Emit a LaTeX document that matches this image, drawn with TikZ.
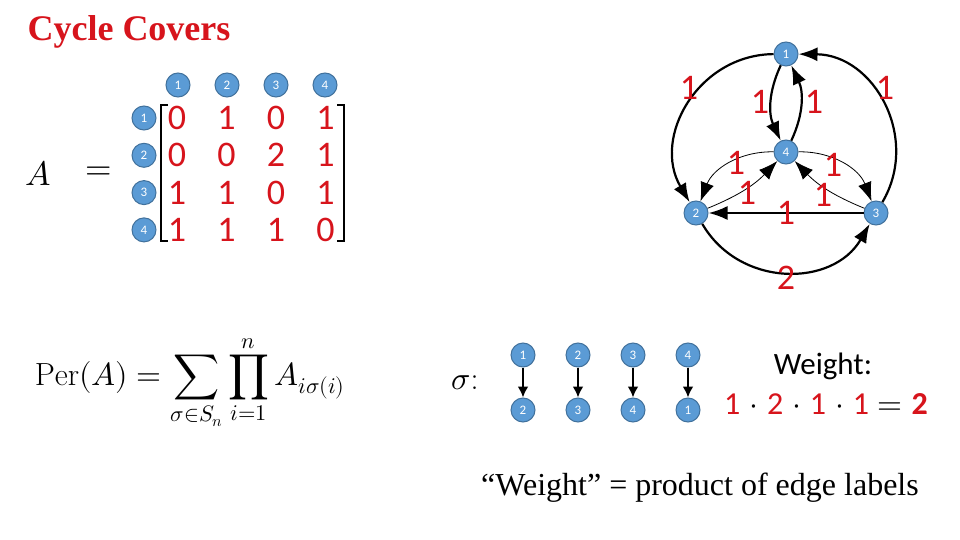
\documentclass[tikz,border=0pt]{standalone}
\usepackage{fontspec}
\usepackage{unicode-math}
\setmathfont{Latin Modern Math}
\newfontfamily\cambria{Liberation Serif}
\newfontfamily\calibri{Carlito}
\usetikzlibrary{arrows.meta}
\definecolor{numred}{RGB}{215,20,28}
\definecolor{vblue}{RGB}{91,155,213}
\definecolor{vedge}{RGB}{65,113,156}
\tikzset{
  vtx/.style={circle,fill=vblue,draw=vedge,line width=1pt,minimum size=24pt,inner sep=0pt,text=white,font=\calibri\fontsize{13}{13}\selectfont},
  lbl/.style={text=numred,inner sep=0pt,font=\calibri\fontsize{36}{36}\selectfont},
  bigarr/.style={-{Latex[length=19pt,width=14pt]}},
  smallarr/.style={-{Latex[length=11pt,width=11pt]},line width=2.4pt},
}
\begin{document}
\begin{tikzpicture}[x=1pt,y=1pt]
	\useasboundingbox[fill=white] (0,0) rectangle (960,-540);
	\node[anchor=west,text=numred,font=\cambria\fontsize{36}{36}\selectfont\bfseries] (title) at (24,-32) {Cycle Covers};
	% matrix A
	\node[font=\fontsize{34}{34}\selectfont] (lhsA) at (38,-173) {$A$};
	\node[font=\fontsize{34}{34}\selectfont] (eqA) at (99,-173) {$=$};
	\foreach \c in {1,...,4} \node[vtx] (c\c) at ({178+49*(\c-1)},-85) {\c};
	\foreach \r in {1,...,4} \node[vtx] (r\r) at (144,{-118-37.3*(\r-1)}) {\r};
	\foreach \row [count=\i] in {{0,1,0,1},{0,0,2,1},{1,1,0,1},{1,1,1,0}}
		\foreach \v [count=\j] in \row \node[lbl] (m\i\j) at ({177+49.5*(\j-1)},{-118-37.3*(\i-1)}) {\v};
	\draw[line width=2pt] (168,-105) -| (161,-241) -- (168,-241);
	\draw[line width=2pt] (337,-105) -| (344,-241) -- (337,-241);
	% graph
	\node[vtx] (g1) at (786,-54) {1};
	\node[vtx] (g2) at (696,-213) {2};
	\node[vtx] (g3) at (876,-213) {3};
	\node[vtx] (g4) at (786,-152) {4};
	\draw[bigarr,line width=2.2pt] (g1) to[bend right=60,looseness=1.13] (g2);
	\draw[bigarr,line width=2.2pt] (g3) to[bend right=60,looseness=1.13] (g1);
	\draw[bigarr,line width=2.2pt] (g2) to[bend right=60,looseness=1.13] (g3);
	\draw[bigarr,line width=2.2pt] (g3) -- (g2);
	\draw[bigarr,line width=2.2pt] (g1) to[bend right=25] (g4);
	\draw[bigarr,line width=2.2pt] (g4) to[bend right=25] (g1);
	\draw[bigarr,line width=0.8pt] (g4) to[bend right=35] (g2);
	\draw[bigarr,line width=0.8pt] (g2) to[bend right=12] (g4);
	\draw[bigarr,line width=0.8pt] (g4) to[bend left=35] (g3);
	\draw[bigarr,line width=0.8pt] (g3) to[bend left=12] (g4);
	\node[lbl] (w12) at (689,-88) {1};
	\node[lbl] (w31) at (885,-88) {1};
	\node[lbl] (w14) at (760,-102) {1};
	\node[lbl] (w41) at (814,-102) {1};
	\node[lbl] (w42) at (736,-163) {1};
	\node[lbl] (w24) at (747,-193) {1};
	\node[lbl] (w43) at (833,-165) {1};
	\node[lbl] (w34) at (823,-195) {1};
	\node[lbl] (w32) at (786,-213) {1};
	\node[lbl] (w23) at (786,-278) {2};
	% permanent
	\node[font=\fontsize{32}{38}\selectfont] (per) at (190,-383) {$\displaystyle \mathrm{Per}(A)=\sum_{\sigma\in S_n}\prod_{i=1}^{n}A_{i\sigma(i)}$};
	\node[font=\fontsize{32}{38}\selectfont] (sig) at (465,-383) {$\sigma$:};
	\foreach \a/\b [count=\i] in {1/2,2/3,3/4,4/1} {
		\node[vtx] (s\i) at ({523+55*(\i-1)},-355) {\a};
		\node[vtx] (t\i) at ({523+55*(\i-1)},-410) {\b};
		\draw[smallarr] (s\i) -- (t\i);
	}
	\node[font=\calibri\fontsize{31}{31}\selectfont] (wt) at (823,-366) {Weight:};
	\node[font=\calibri\fontsize{32}{32}\selectfont] (prod) at (826,-404) {\textcolor{numred}{1}$\;\cdot\;$\textcolor{numred}{2}$\;\cdot\;$\textcolor{numred}{1}$\;\cdot\;$\textcolor{numred}{1}$\;=\;$\textcolor{numred}{\bfseries 2}};
	\node[font=\cambria\fontsize{32}{32}\selectfont] (note) at (700,-488) {“Weight” = product of edge labels};
\end{tikzpicture}
\end{document}
